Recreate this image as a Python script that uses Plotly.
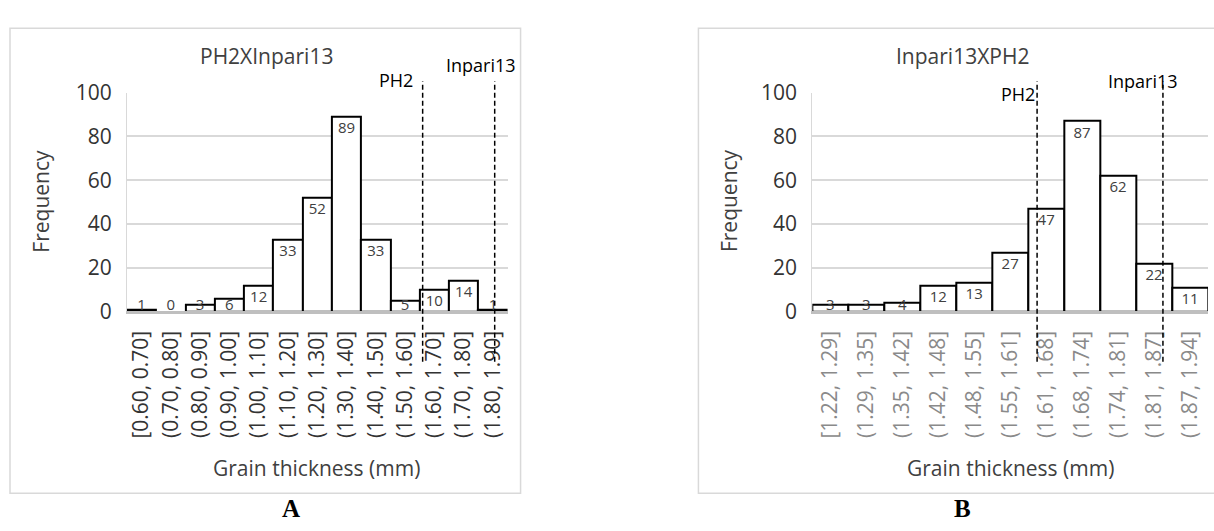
import plotly.graph_objects as go

# ---------------- data ----------------
cats_a = ["[0.60, 0.70]", "(0.70, 0.80]", "(0.80, 0.90]", "(0.90, 1.00]", "(1.00, 1.10]",
          "(1.10, 1.20]", "(1.20, 1.30]", "(1.30, 1.40]", "(1.40, 1.50]", "(1.50, 1.60]",
          "(1.60, 1.70]", "(1.70, 1.80]", "(1.80, 1.90]"]
freq_a = [1, 0, 3, 6, 12, 33, 52, 89, 33, 5, 10, 14, 1]
bin_start_a = 0.60
bin_width_a = 0.10

cats_b = ["[1.22, 1.29]", "(1.29, 1.35]", "(1.35, 1.42]", "(1.42, 1.48]", "(1.48, 1.55]",
          "(1.55, 1.61]", "(1.61, 1.68]", "(1.68, 1.74]", "(1.74, 1.81]", "(1.81, 1.87]",
          "(1.87, 1.94]"]
freq_b = [3, 3, 4, 12, 13, 27, 47, 87, 62, 22, 11]
bin_start_b = 1.22
bin_width_b = (1.94 - 1.22) / 11

parent_names = ["PH2", "Inpari13"]
parent_mm_a = [1.61, 1.856]
parent_mm_b = [1.629, 1.858]

title_a = "PH2XInpari13"
title_b = "Inpari13XPH2"
x_title = "Grain thickness (mm)"
y_title = "Frequency"
y_ticks = [0, 20, 40, 60, 80, 100]

# ---------------- layout helpers ----------------
W, H = 1214, 531
FONT = "Open Sans"
DARK = "#404040"


def px(x):
    return x / W


def py(y):
    return 1 - y / H


def to_cat(mm, start, width):
    return (mm - start) / width - 0.5


def label_y(v):
    return max(v - 5.8, 2.6)


fig = go.Figure()

panels = [
    dict(cats=cats_a, freq=freq_a, start=bin_start_a, width=bin_width_a, parents=parent_mm_a,
         xa="x", ya="y", xdom=[px(126), px(507)], title=title_a, tcx=266, fx=40, gx=316,
         tick_col="#333333", box=[9, 520], letter="A", lx=290,
         plab=[dict(xanchor="right", xshift=-8, y=69), dict(xanchor="center", xshift=-14, y=53)]),
    dict(cats=cats_b, freq=freq_b, start=bin_start_b, width=bin_width_b, parents=parent_mm_b,
         xa="x2", ya="y2", xdom=[px(812), px(1208)], title=title_b, tcx=962, fx=728, gx=1010,
         tick_col="#8a8a8a", box=[698, 1226], letter="B", lx=962,
         plab=[dict(xanchor="right", xshift=0, y=83), dict(xanchor="center", xshift=-20, y=70)]),
]

shapes = []
annotations = []
for i, p in enumerate(panels):
    fig.add_trace(go.Bar(
        x=p["cats"], y=p["freq"], xaxis=p["xa"], yaxis=p["ya"],
        marker=dict(color="white", line=dict(color="black", width=[0 if v == 0 else 2 for v in p["freq"]])),
        width=1, showlegend=False, hoverinfo="x+y",
    ))
    fig.add_trace(go.Scatter(
        x=p["cats"], y=[label_y(v) for v in p["freq"]], text=[str(v) for v in p["freq"]],
        mode="text", textposition="middle center", xaxis=p["xa"], yaxis=p["ya"],
        textfont=dict(family=FONT, size=15, color=DARK), showlegend=False, hoverinfo="skip",
    ))
    # panel box
    shapes.append(dict(type="rect", xref="paper", yref="paper", x0=px(p["box"][0]), x1=px(p["box"][1]),
                       y0=py(505), y1=py(14), line=dict(color="#d9d9d9", width=1.5), layer="below"))
    # parent dashed lines
    for j, mm in enumerate(p["parents"]):
        c = to_cat(mm, p["start"], p["width"])
        shapes.append(dict(type="line", xref=p["xa"], yref="paper", x0=c, x1=c, y0=py(366), y1=py(70),
                           line=dict(color="black", width=1.5, dash="5px,3px")))
        lab = p["plab"][j]
        annotations.append(dict(text=parent_names[j], xref=p["xa"], yref="paper", x=c, y=py(lab["y"]),
                                xanchor=lab["xanchor"], xshift=lab["xshift"], yanchor="middle",
                                showarrow=False, font=dict(family=FONT, size=18, color="black")))
    annotations.append(dict(text=p["title"], xref="paper", yref="paper", x=px(p["tcx"]), y=py(43),
                            xanchor="center", yanchor="middle", showarrow=False,
                            font=dict(family=FONT, size=21, color=DARK)))
    annotations.append(dict(text=y_title, xref="paper", yref="paper", x=px(p["fx"]), y=py(196),
                            xanchor="center", yanchor="middle", showarrow=False, textangle=-90,
                            font=dict(family=FONT, size=21, color=DARK)))
    annotations.append(dict(text=x_title, xref="paper", yref="paper", x=px(p["gx"]), y=py(478),
                            xanchor="center", yanchor="middle", showarrow=False,
                            font=dict(family=FONT, size=21, color=DARK)))
    annotations.append(dict(text="<b>" + p["letter"] + "</b>", xref="paper", yref="paper", x=px(p["lx"]), y=py(521),
                            xanchor="center", yanchor="middle", showarrow=False,
                            font=dict(family="Liberation Serif", size=25, color="black")))

    xaxis = dict(domain=p["xdom"], anchor=p["ya"], type="category", range=[-0.5, len(p["cats"]) - 0.5],
                 showgrid=False, showline=True, linecolor="#bfbfbf", linewidth=3, ticks="",
                 tickangle=-90, tickfont=dict(family=FONT, size=21, color=p["tick_col"]),
                 ticklabelstandoff=8, fixedrange=True)
    yaxis = dict(domain=[py(313), py(82)], anchor=p["xa"], range=[0, 100], tickvals=y_ticks,
                 showgrid=True, gridcolor="#d9d9d9", gridwidth=1.5, zeroline=False,
                 showline=True, linecolor="#d9d9d9", linewidth=1, ticks="",
                 tickfont=dict(family=FONT, size=21, color="#333333"), ticklabelstandoff=10, fixedrange=True)
    suffix = "" if i == 0 else "2"
    fig.layout["xaxis" + suffix] = xaxis
    fig.layout["yaxis" + suffix] = yaxis

fig.update_layout(
    width=W, height=H, margin=dict(l=0, r=0, t=0, b=0),
    paper_bgcolor="white", plot_bgcolor="white",
    bargap=0, shapes=shapes, annotations=annotations, showlegend=False,
)

fig.write_html("out.html", config={"displayModeBar": False},
               post_script="document.body.style.margin='0';document.body.style.overflow='hidden';")
